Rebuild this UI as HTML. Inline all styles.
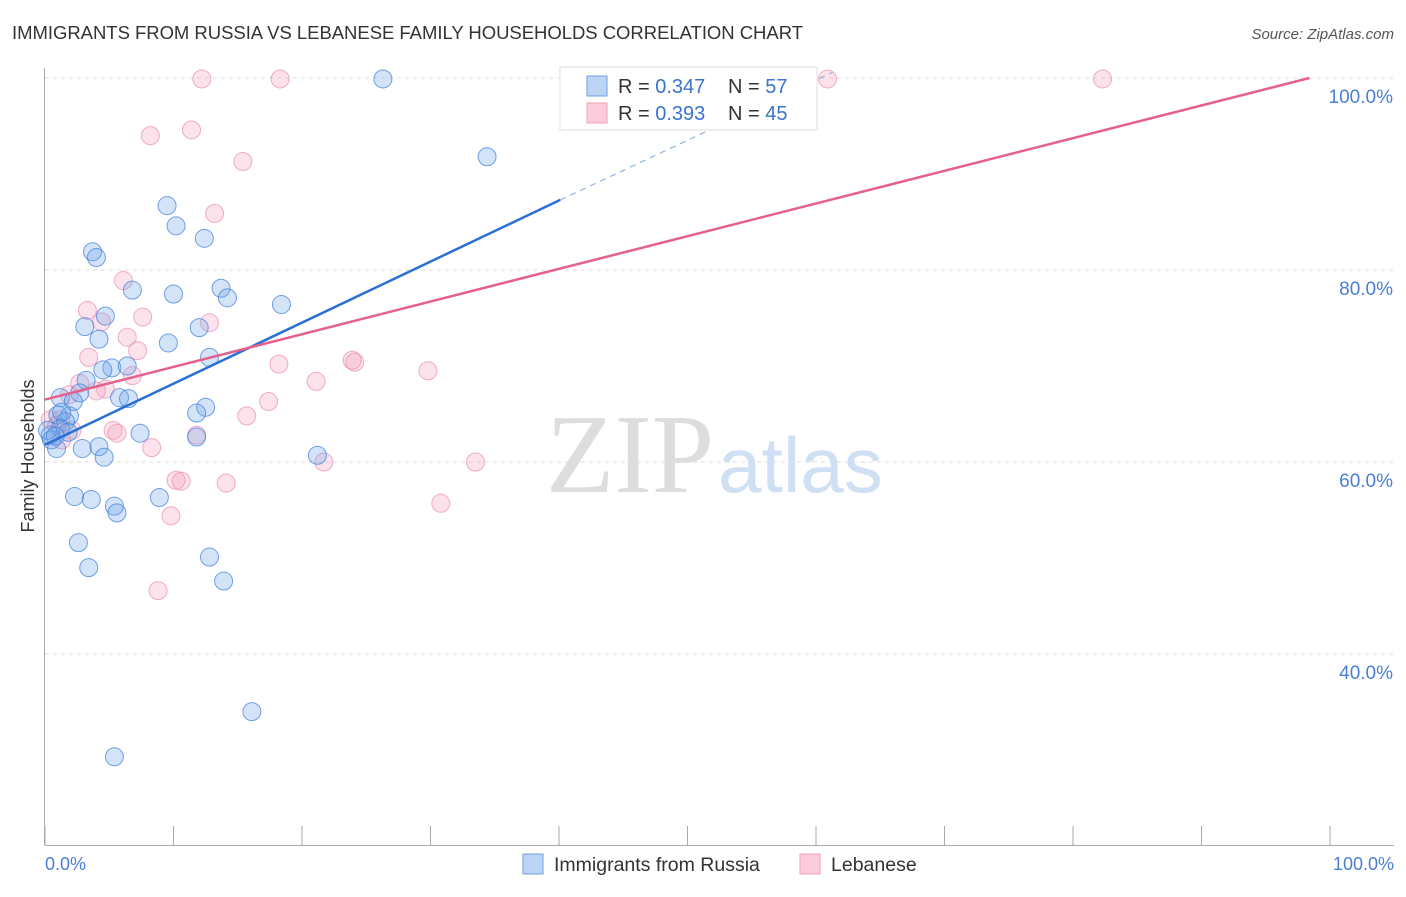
<!DOCTYPE html>
<html><head><meta charset="utf-8"><style>
body{margin:0;background:#fff;font-family:"Liberation Sans",sans-serif}
</style></head><body>
<svg width="1406" height="892" xmlns="http://www.w3.org/2000/svg" id="chart" font-family="Liberation Sans, sans-serif">
<text x="12" y="39" font-size="18.5" fill="#333" textLength="791">IMMIGRANTS FROM RUSSIA VS LEBANESE FAMILY HOUSEHOLDS CORRELATION CHART</text>
<text x="1394" y="39" font-size="15" fill="#555" font-style="italic" text-anchor="end">Source: ZipAtlas.com</text>
<g id="grid"></g>
<text x="714" y="492" font-size="112" fill="#ddd" font-family="Liberation Serif, serif" text-anchor="end">ZIP</text>
<text x="718" y="492" font-size="78" fill="#cfe0f5">atlas</text>
<g id="pts"></g>
<g id="lines"></g>
<text x="34" y="456" font-size="18" fill="#333" transform="rotate(-90 34 456)" text-anchor="middle">Family Households</text>
<text x="45" y="870" font-size="18" fill="#4a7fd6">0.0%</text>
<text x="1394" y="870" font-size="18" fill="#4a7fd6" text-anchor="end">100.0%</text>
<g>
<rect x="560" y="67" width="257" height="63" fill="#fff" stroke="#ddd"/>
<rect x="587" y="76" width="20" height="20" fill="#bcd5f5" stroke="#6fa0e0"/>
<rect x="587" y="103" width="20" height="20" fill="#fbcddc" stroke="#f0a0bc"/>
<text x="618" y="93" font-size="20" fill="#333">R = <tspan fill="#3a73d0">0.347</tspan></text>
<text x="728" y="93" font-size="20" fill="#333">N = <tspan fill="#3a73d0">57</tspan></text>
<text x="618" y="120" font-size="20" fill="#333">R = <tspan fill="#3a73d0">0.393</tspan></text>
<text x="728" y="120" font-size="20" fill="#333">N = <tspan fill="#3a73d0">45</tspan></text>
</g>
<g>
<rect x="523" y="854" width="20" height="20" fill="#bcd5f5" stroke="#6fa0e0"/>
<text x="554" y="871" font-size="19.5" fill="#333">Immigrants from Russia</text>
<rect x="800" y="854" width="20" height="20" fill="#fbcddc" stroke="#f0a0bc"/>
<text x="831" y="871" font-size="19.5" fill="#333">Lebanese</text>
</g>
</svg>
<script>
const yTicks=[40,60,80,100];
const yTickLabels=["40.0%","60.0%","80.0%","100.0%"];
const xTicks=[0,10,20,30,40,50,60,70,80,90,100];
const russiaX=[26.3,34.4,9.5,10.2,12.4,3.7,4.0,6.8,10.0,13.7,14.2,18.4,4.7,3.1,12.0,9.6,4.2,12.8,5.2,6.4,4.5,3.2,2.7,5.8,6.5,1.2,2.2,12.5,11.8,1.9,1.0,1.6,1.2,1.8,0.4,0.5,0.9,2.9,4.2,4.6,7.4,11.8,21.2,2.3,3.6,5.4,5.6,8.9,2.6,3.4,12.8,13.9,16.1,5.4,0.2,0.8,1.3];
const russiaY=[99.9,91.8,86.7,84.6,83.3,81.9,81.3,77.9,77.5,78.1,77.1,76.4,75.2,74.1,74.0,72.4,72.8,70.9,69.8,70.0,69.6,68.5,67.2,66.7,66.6,66.7,66.3,65.7,65.1,64.8,64.9,64.2,63.5,63.1,62.8,62.3,61.4,61.4,61.6,60.5,63.0,62.6,60.7,56.4,56.1,55.4,54.7,56.3,51.6,49.0,50.1,47.6,34.0,29.3,63.3,62.7,65.2];
const lebX=[12.2,18.3,60.9,82.3,8.2,11.4,15.4,13.2,6.1,3.3,7.6,4.4,12.8,6.4,7.2,3.4,18.2,23.9,24.1,29.8,21.1,6.8,2.7,4.7,4.0,1.9,17.4,15.7,1.2,2.1,5.3,5.6,11.8,8.3,0.4,0.9,21.7,33.5,10.2,10.6,14.1,9.8,30.8,8.8,1.3];
const lebY=[99.9,99.9,99.9,99.9,94.0,94.6,91.3,85.9,78.9,75.8,75.1,74.6,74.5,73.0,71.6,70.9,70.2,70.6,70.4,69.5,68.4,69.0,68.2,67.6,67.4,67.0,66.3,64.8,64.4,63.3,63.3,63.0,62.8,61.5,64.4,63.8,60.0,60.0,58.1,58.0,57.8,54.4,55.7,46.6,62.3];
const russiaTrend=[61.8,87.3,100.6];
const russiaTrendX=[0,40.1,61.3];
const lebTrend=[66.5,100];
const lebTrendX=[0,98.4];
const NS="http://www.w3.org/2000/svg";
const sx=v=>45+v*12.85, sy=v=>1038-v*9.6;
function mk(t,a,p){const e=document.createElementNS(NS,t);for(const k in a)e.setAttribute(k,a[k]);p.appendChild(e);return e;}
const grid=document.getElementById('grid');
yTicks.forEach((t,i)=>{
 const l=mk('line',{x1:45,x2:1394,y1:sy(t),y2:sy(t),stroke:'#ddd','stroke-dasharray':'4,4'},grid);
 
 
 const tx=mk('text',{x:1393,y:sy(t)+25,'font-size':19,fill:'#4a7fd6','text-anchor':'end'},grid);
 tx.textContent=yTickLabels[i];
 
 
});
const ax=mk('line',{x1:44.5,x2:44.5,y1:68,y2:845,stroke:'#aaa'},grid);


const bx=mk('line',{x1:45,x2:1394,y1:845.5,y2:845.5,stroke:'#aaa'},grid);


xTicks.forEach(t=>{
 const l=mk('line',{x1:sx(t),x2:sx(t),y1:826,y2:845,stroke:'#aaa'},grid);
 
 
});
const pts=document.getElementById('pts');
lebX.forEach((x,i)=>{
 const c=mk('circle',{cx:sx(x),cy:sy(lebY[i]),r:9,fill:'rgba(243,160,190,0.3)',stroke:'rgba(236,140,175,0.7)'},pts);
 
 
});
russiaX.forEach((x,i)=>{
 const c=mk('circle',{cx:sx(x),cy:sy(russiaY[i]),r:9,fill:'rgba(110,165,235,0.3)',stroke:'rgba(70,130,220,0.75)'},pts);
 
 
});
const lines=document.getElementById('lines');
const b1=mk('line',{x1:sx(russiaTrendX[0]),y1:sy(russiaTrend[0]),x2:sx(russiaTrendX[1]),y2:sy(russiaTrend[1]),stroke:'#2a6fd6','stroke-width':2.5},lines);


const b2=mk('line',{x1:sx(russiaTrendX[1]),y1:sy(russiaTrend[1]),x2:sx(russiaTrendX[2]),y2:sy(russiaTrend[2]),stroke:'#8fb3e6','stroke-width':1.2,'stroke-dasharray':'6,5'},lines);


const p1=mk('line',{x1:sx(lebTrendX[0]),y1:sy(lebTrend[0]),x2:sx(lebTrendX[1]),y2:sy(lebTrend[1]),stroke:'#e4608f','stroke-width':2.5},lines);


</script>
</body></html>
